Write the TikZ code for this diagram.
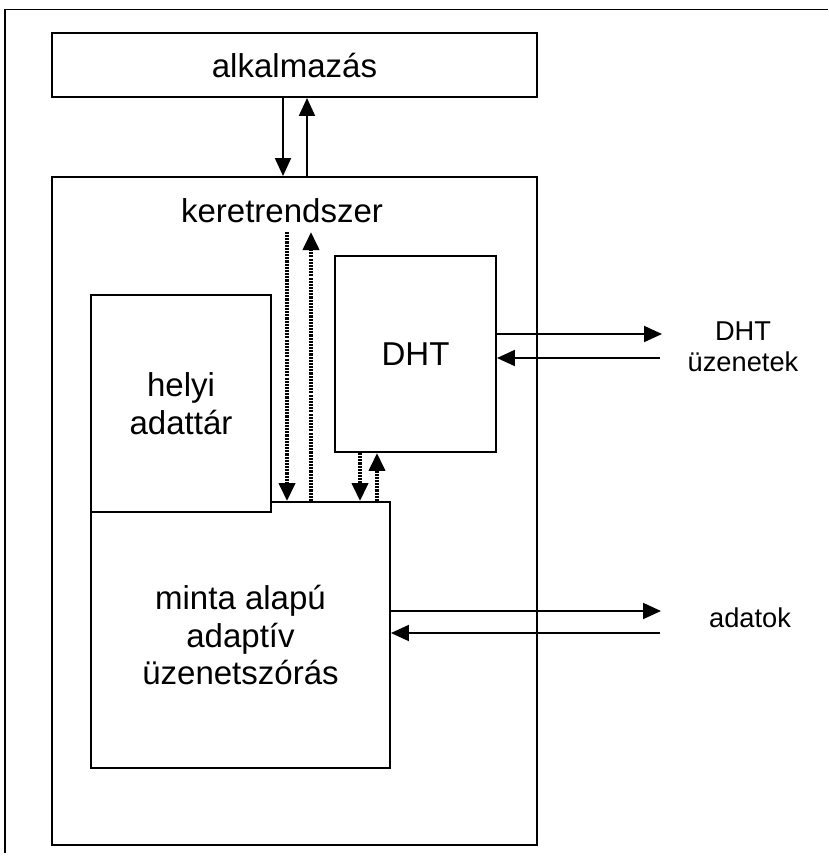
\documentclass[tikz,border=0pt]{standalone}
\usepackage{fontspec}
\setmainfont{Liberation Sans}
\usetikzlibrary{arrows.meta, positioning, calc}

\begin{document}
\begin{tikzpicture}[
    % Styles
    box/.style={
        rectangle, draw=black, fill=white,
        line width=1.1pt, align=center,
        font=\fontsize{18.8}{21.5}\selectfont
    },
    lbl/.style={font=\fontsize{18.8}{21.5}\selectfont, inner sep=0pt},
    side/.style={font=\fontsize{15.5}{17.5}\selectfont, align=center, inner sep=0pt},
    arrow/.style={-{Triangle[length=0.36cm, width=0.32cm]}, line width=1.1pt},
    dotarrow/.style={-{Triangle[length=0.36cm, width=0.32cm]}, line width=2.2pt,
        dash pattern=on 1.2pt off 0.6pt}
]
\useasboundingbox (0,0) rectangle (16.56,-17.14);

% === FRAME ===
\draw[line width=0.8pt] (16.56,-0.19) -- (0.1,-0.19) -- (0.1,-17.06);

% === BOXES ===
\node (app) [box, minimum width=9.7cm, minimum height=1.28cm] at (5.89, -1.30) {alkalmazás};
\node (frame) [box, minimum width=9.7cm, minimum height=13.36cm] at (5.89, -10.22) {};
\node (kt) [lbl] at (5.64, -4.22) {keretrendszer};
\node (minta) [box, minimum width=5.98cm, minimum height=5.32cm] at (4.81, -12.70) {minta alapú\\adaptív\\üzenetszórás};
\node (helyi) [box, minimum width=3.6cm, minimum height=4.34cm] at (3.62, -8.07) {helyi\\adattár};
\node (dht) [box, minimum width=3.22cm, minimum height=3.92cm] at (8.31, -7.08) {DHT};

% === OUTSIDE LABELS ===
\node (msg) [side] at (14.86, -6.93) {DHT\\üzenetek};
\node (data) [side] at (15.0, -12.36) {adatok};

% === END POINTS ===
\coordinate (kdown) at (5.74, -4.64);
\coordinate (kup) at (6.22, -4.64);
\coordinate (dout) at (13.24, -6.68);
\coordinate (din) at (13.20, -7.16);
\coordinate (aout) at (13.22, -12.22);
\coordinate (ain) at (13.20, -12.66);

% === ARROWS ===
% Application <-> framework
\draw [arrow] ([xshift=-0.23cm]app.south) -- ([xshift=-0.23cm]frame.north);
\draw [arrow] ([xshift=0.25cm]frame.north) -- ([xshift=0.25cm]app.south);

% Framework <-> broadcast (dotted)
\draw [dotarrow] (kdown) -- (kdown |- minta.north);
\draw [dotarrow] (kup |- minta.north) -- (kup);

% DHT <-> broadcast (dotted)
\draw [dotarrow] ([xshift=-1.11cm]dht.south) -- ([xshift=-1.11cm]dht.south |- minta.north);
\draw [dotarrow] ([xshift=-0.77cm]dht.south |- minta.north) -- ([xshift=-0.77cm]dht.south);

% DHT messages
\draw [arrow] (dht.east |- dout) -- (dout);
\draw [arrow] (din) -- (dht.east |- din);

% Data
\draw [arrow] (minta.east |- aout) -- (aout);
\draw [arrow] (ain) -- (minta.east |- ain);

\end{tikzpicture}
\end{document}
